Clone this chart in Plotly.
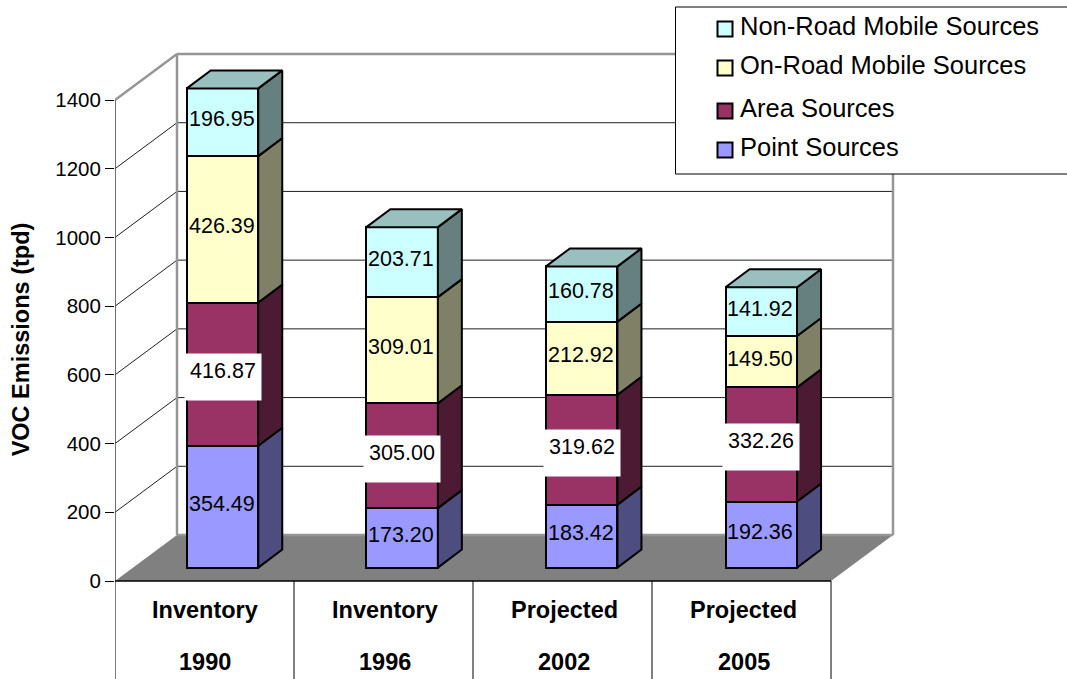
import plotly.graph_objects as go

# ---------- data ----------
cat_top = ["Inventory", "Inventory", "Projected", "Projected"]
cat_bottom = ["1990", "1996", "2002", "2005"]
point_sources = [354.49, 173.20, 183.42, 192.36]
area_sources = [416.87, 305.00, 319.62, 332.26]
onroad_sources = [426.39, 309.01, 212.92, 149.50]
nonroad_sources = [196.95, 203.71, 160.78, 141.92]
y_ticks = [0, 200, 400, 600, 800, 1000, 1200, 1400]

series = [
    ("Point Sources", point_sources, "#9999FF", "#4D4D80"),
    ("Area Sources", area_sources, "#993366", "#4D1A33"),
    ("On-Road Mobile Sources", onroad_sources, "#FFFFCC", "#808066"),
    ("Non-Road Mobile Sources", nonroad_sources, "#CCFFFF", "#668080"),
]
TOP_FACE = "#99BFBF"

# ---------- geometry of the pseudo-3D frame ----------
W, H = 1067, 679
LEFT = 115.0
CAT_PX = 179.0
Y0_PX = 581.0
PX_PER_UNIT = 481.0 / 1400.0


def xd(px):
    return (px - LEFT) / CAT_PX


def yd(px):
    return (Y0_PX - px) / PX_PER_UNIT


def dx(px):
    return px / CAT_PX


def dy(px):
    return px / PX_PER_UNIT


x_range = [0, xd(W)]
y_range = [yd(H), yd(0)]
n = len(cat_top)
wall_dx, wall_dy = dx(62), dy(46)
bar_dx, bar_dy = dx(24), dy(18)
bar_lift = dy(13.4)
bar_w = dx(71.5)

fig = go.Figure()
shapes = []


def line(x0, y0, x1, y1, color="#000000", width=1):
    shapes.append(dict(type="line", xref="x", yref="y", x0=x0, y0=y0, x1=x1, y1=y1,
                       layer="below", line=dict(color=color, width=width)))


def poly(xs, ys, fill, lc=None, width=0):
    p = "M " + " L ".join(f"{a} {b}" for a, b in zip(xs, ys)) + " Z"
    shapes.append(dict(type="path", path=p, xref="x", yref="y", layer="below", fillcolor=fill,
                       line=dict(color=lc or fill, width=width)))


# floor
poly([0, n, n + wall_dx, wall_dx], [0, 0, wall_dy, wall_dy], "#808080")
# gridlines on walls
for t in y_ticks[1:]:
    line(0, t, wall_dx, t + wall_dy, "#202020", 1)
    line(wall_dx, t + wall_dy, n + wall_dx, t + wall_dy, "#202020", 1)
# wall borders
top = y_ticks[-1]
line(wall_dx, wall_dy, wall_dx, top + wall_dy, "#969696", 2.5)
line(wall_dx, top + wall_dy, n + wall_dx, top + wall_dy, "#969696", 2.5)
line(n + wall_dx, wall_dy, n + wall_dx, top + wall_dy, "#969696", 2.5)
line(wall_dx, wall_dy, n + wall_dx, wall_dy, "#969696", 2.5)
line(0, top, wall_dx, top + wall_dy, "#969696", 2.5)
line(0, 0, 0, top, "#404040", 1.5)
# table under the plot
line(0, 0, n, 0, "#000000", 1.5)
for i in range(n + 1):
    line(i, 0, i, y_range[0], "#000000", 1)

# legend frame (drawn after the walls so that it hides them)
poly([xd(675.5), xd(W + 5), xd(W + 5), xd(675.5)], [yd(7), yd(7), yd(174), yd(174)],
     "#FFFFFF", "#000000", 1)

# stacked bars with their side and top faces
centers = [xd(222.5 + i * 179.6) for i in range(n)]
annotations = []
base = [bar_lift] * n
for name, vals, front, side in series:
    fig.add_trace(go.Bar(x=centers, y=vals, base=base, width=bar_w, name=name,
                         marker=dict(color=front, line=dict(color="#000000", width=2)),
                         showlegend=False, hoverinfo="skip"))
    for i in range(n):
        xr = centers[i] + bar_w / 2
        b0, b1 = base[i], base[i] + vals[i]
        fig.add_trace(go.Scatter(
            x=[xr, xr + bar_dx, xr + bar_dx, xr, xr],
            y=[b0, b0 + bar_dy, b1 + bar_dy, b1, b0],
            mode="lines", fill="toself", fillcolor=side,
            line=dict(color="#000000", width=2), showlegend=False, hoverinfo="skip"))
        white = name == "Area Sources"
        label = dict(x=centers[i], y=(b0 + b1) / 2, xref="x", yref="y", text=f"{vals[i]:.2f}",
                     showarrow=False, font=dict(size=21.5, color="#000000"), align="center")
        if white:
            label.update(bgcolor="#FFFFFF", width=66, height=36, borderpad=5, valign="top", yshift=-3)
        else:
            label.update(yshift=3, xshift=-1)
        annotations.append(label)
    base = [b + v for b, v in zip(base, vals)]

# top faces
for i in range(n):
    xl = centers[i] - bar_w / 2
    xr = centers[i] + bar_w / 2
    fig.add_trace(go.Scatter(
        x=[xl, xr, xr + bar_dx, xl + bar_dx, xl],
        y=[base[i], base[i], base[i] + bar_dy, base[i] + bar_dy, base[i]],
        mode="lines", fill="toself", fillcolor=TOP_FACE,
        line=dict(color="#000000", width=2), showlegend=False, hoverinfo="skip"))

# category labels
for i in range(n):
    cx = xd(205 + i * 179.5)
    annotations.append(dict(x=cx, y=yd(610), xref="x", yref="y", text=f"<b>{cat_top[i]}</b>",
                            showarrow=False, font=dict(size=23.5, color="#000000")))
    annotations.append(dict(x=cx, y=yd(662), xref="x", yref="y", text=f"<b>{cat_bottom[i]}</b>",
                            showarrow=False, font=dict(size=23.5, color="#000000")))

# key
key_rows = [(series[3], 29, 26), (series[2], 68, 65), (series[1], 111, 108), (series[0], 150, 147)]
for (name, _, front, _), my, ty in key_rows:
    fig.add_trace(go.Scatter(x=[xd(725)], y=[yd(my)], mode="markers", name=name,
                             marker=dict(symbol="square", size=15, color=front,
                                         line=dict(color="#000000", width=2)),
                             showlegend=False, hoverinfo="skip"))
    annotations.append(dict(x=xd(738), y=yd(ty), xref="x", yref="y", text=name, xanchor="left",
                            showarrow=False, font=dict(size=25.5, color="#000000")))

fig.update_layout(
    width=W, height=H, autosize=False, barmode="overlay", bargap=0,
    margin=dict(l=LEFT, r=0, t=0, b=0),
    paper_bgcolor="#FFFFFF", plot_bgcolor="#FFFFFF",
    font=dict(family="Liberation Sans, Arial, sans-serif", color="#000000"),
    xaxis=dict(range=x_range, showgrid=False, zeroline=False, showline=False,
               showticklabels=False, ticks=""),
    yaxis=dict(range=y_range, tickvals=y_ticks, showgrid=False, zeroline=False, showline=False,
               ticks="outside", ticklen=9, tickwidth=1, tickcolor="#000000",
               tickfont=dict(size=20.5),
               title=dict(text="<b>VOC Emissions (tpd)</b>", font=dict(size=23.5), standoff=19)),
    shapes=shapes, annotations=annotations,
)
fig.write_html("out.html", config=dict(displayModeBar=False),
               post_script="document.body.style.margin='0';document.documentElement.style.overflow='hidden';")
